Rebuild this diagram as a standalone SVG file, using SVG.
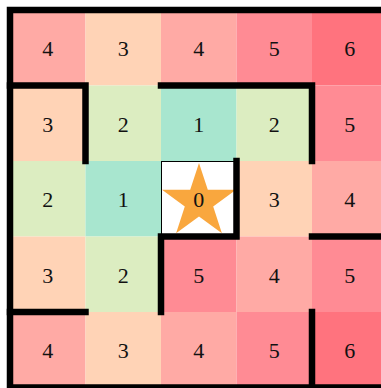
<svg xmlns="http://www.w3.org/2000/svg" width="381" height="388" viewBox="0 0 381 388">
<style>
.c1{fill:#A8E6CF}.c2{fill:#DCEDC1}.c3{fill:#FFD3B6}.c4{fill:#FFAAA5}.c5{fill:#FF8B94}.c6{fill:#FF737E}
.t{font-family:"Liberation Serif","DejaVu Serif",serif;font-size:22px;fill:#111;text-anchor:middle;dominant-baseline:central}
.w{fill:none;stroke:#000;stroke-width:6.5;stroke-linecap:square;stroke-linejoin:miter}
</style>
<rect width="381" height="388" fill="#fff"/>
<g id="cells">
<g id="r0c0"><rect class="c4" x="10" y="10" width="75.5" height="75.5"/><text class="t" x="47.75" y="48.5">4</text></g>
<g id="r0c1"><rect class="c3" x="85.5" y="10" width="75.5" height="75.5"/><text class="t" x="123.25" y="48.5">3</text></g>
<g id="r0c2"><rect class="c4" x="161" y="10" width="75.5" height="75.5"/><text class="t" x="198.75" y="48.5">4</text></g>
<g id="r0c3"><rect class="c5" x="236.5" y="10" width="75.5" height="75.5"/><text class="t" x="274.25" y="48.5">5</text></g>
<g id="r0c4"><rect class="c6" x="312" y="10" width="75.5" height="75.5"/><text class="t" x="349.75" y="48.5">6</text></g>

<g id="r1c0"><rect class="c3" x="10" y="85.5" width="75.5" height="75.5"/><text class="t" x="47.75" y="124">3</text></g>
<g id="r1c1"><rect class="c2" x="85.5" y="85.5" width="75.5" height="75.5"/><text class="t" x="123.25" y="124">2</text></g>
<g id="r1c2"><rect class="c1" x="161" y="85.5" width="75.5" height="75.5"/><text class="t" x="198.75" y="124">1</text></g>
<g id="r1c3"><rect class="c2" x="236.5" y="85.5" width="75.5" height="75.5"/><text class="t" x="274.25" y="124">2</text></g>
<g id="r1c4"><rect class="c5" x="312" y="85.5" width="75.5" height="75.5"/><text class="t" x="349.75" y="124">5</text></g>

<g id="r2c0"><rect class="c2" x="10" y="161" width="75.5" height="75.5"/><text class="t" x="47.75" y="199.5">2</text></g>
<g id="r2c1"><rect class="c1" x="85.5" y="161" width="75.5" height="75.5"/><text class="t" x="123.25" y="199.5">1</text></g>
<g id="r2c2"><rect fill="#fff" stroke="#000" stroke-width="1" x="161.5" y="161.5" width="75" height="75"/>
<polygon fill="#F9A73E" points="199,163 207.8,189.8 236,189.8 213.2,206.4 221.9,233.2 199,216.6 176.1,233.2 184.8,206.4 162,189.8 190.2,189.8"/>
<text class="t" x="198.75" y="199.5">0</text></g>
<g id="r2c3"><rect class="c3" x="236.5" y="161" width="75.5" height="75.5"/><text class="t" x="274.25" y="199.5">3</text></g>
<g id="r2c4"><rect class="c4" x="312" y="161" width="75.5" height="75.5"/><text class="t" x="349.75" y="199.5">4</text></g>

<g id="r3c0"><rect class="c3" x="10" y="236.5" width="75.5" height="75.5"/><text class="t" x="47.75" y="275">3</text></g>
<g id="r3c1"><rect class="c2" x="85.5" y="236.5" width="75.5" height="75.5"/><text class="t" x="123.25" y="275">2</text></g>
<g id="r3c2"><rect class="c5" x="161" y="236.5" width="75.5" height="75.5"/><text class="t" x="198.75" y="275">5</text></g>
<g id="r3c3"><rect class="c4" x="236.5" y="236.5" width="75.5" height="75.5"/><text class="t" x="274.25" y="275">4</text></g>
<g id="r3c4"><rect class="c5" x="312" y="236.5" width="75.5" height="75.5"/><text class="t" x="349.75" y="275">5</text></g>

<g id="r4c0"><rect class="c4" x="10" y="312" width="75.5" height="75.5"/><text class="t" x="47.75" y="350.5">4</text></g>
<g id="r4c1"><rect class="c3" x="85.5" y="312" width="75.5" height="75.5"/><text class="t" x="123.25" y="350.5">3</text></g>
<g id="r4c2"><rect class="c4" x="161" y="312" width="75.5" height="75.5"/><text class="t" x="198.75" y="350.5">4</text></g>
<g id="r4c3"><rect class="c5" x="236.5" y="312" width="75.5" height="75.5"/><text class="t" x="274.25" y="350.5">5</text></g>
<g id="r4c4"><rect class="c6" x="312" y="312" width="75.5" height="75.5"/><text class="t" x="349.75" y="350.5">6</text></g>
</g>
<g id="walls">
<rect class="w" x="10" y="10" width="377.5" height="377.5"/>
<polyline class="w" points="10,85.5 85.5,85.5 85.5,161"/>
<polyline class="w" points="161,85.5 312,85.5 312,161"/>
<polyline class="w" points="236.5,161 236.5,236.5 161,236.5 161,312"/>
<polyline class="w" points="312,236.5 387.5,236.5"/>
<polyline class="w" points="10,312 85.5,312"/>
<polyline class="w" points="312,312 312,387.5"/>
</g>
</svg>
